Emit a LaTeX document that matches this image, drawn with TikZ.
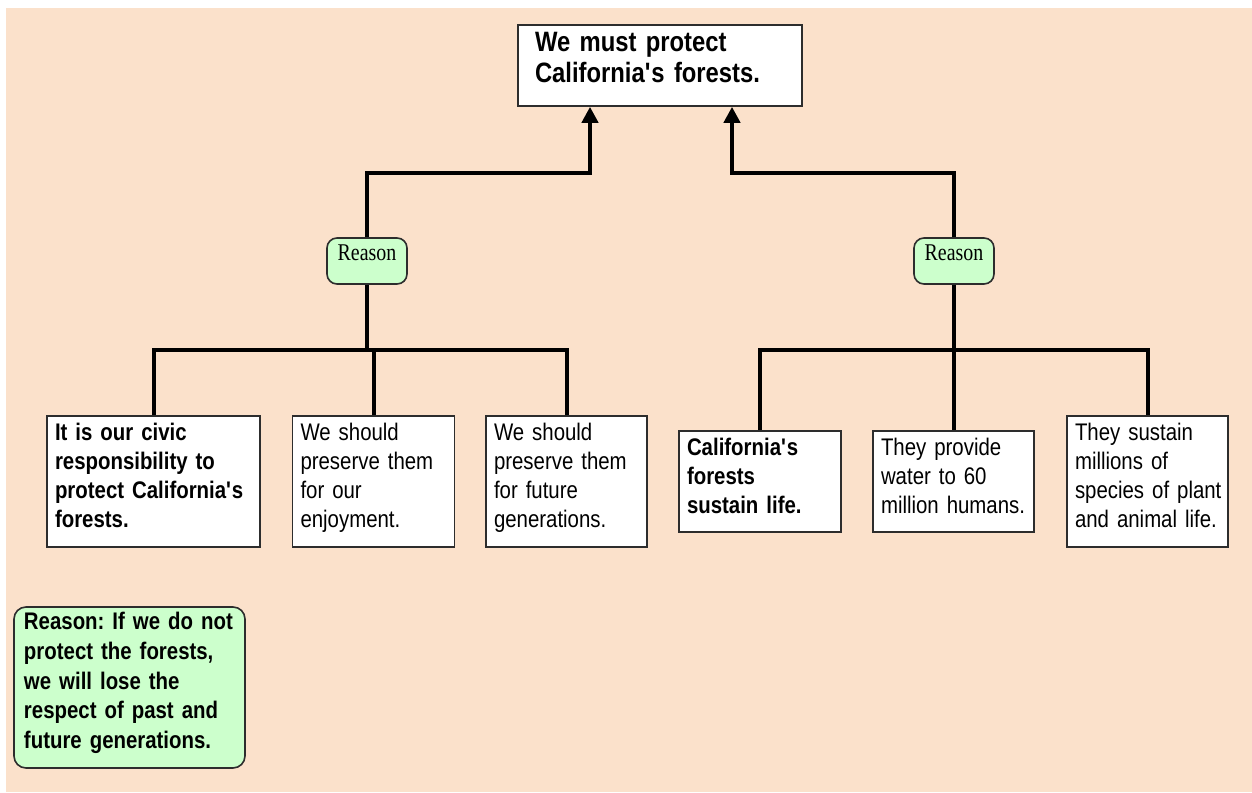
\documentclass[tikz,border=0pt]{standalone}
\usepackage{fontspec}
\setsansfont{Liberation Sans}[FakeStretch=0.85, WordSpace=0.85]
\newfontfamily\reasonfont{Liberation Serif}[FakeStretch=0.83]
\usetikzlibrary{arrows.meta}
\definecolor{peach}{RGB}{251,225,203}
\definecolor{mint}{RGB}{204,255,204}
\definecolor{edge}{RGB}{45,45,45}
\frenchspacing

\begin{document}
\begin{tikzpicture}[x=0.5pt, y=-0.5pt, >={Triangle[width=8pt,length=8pt]}]

% Stili dei blocchi
\tikzstyle{block} = [rectangle, draw=edge, line width=0.8pt, fill=white,
    font=\sffamily\fontsize{12}{14.5}\selectfont, align=left,
    inner xsep=4pt, inner ysep=2pt]
\tikzstyle{boldblock} = [block, font=\sffamily\bfseries\fontsize{12}{14.5}\selectfont]
\tikzstyle{tall} = [minimum height=65.5pt, text depth=49.7pt]
\tikzstyle{short} = [minimum height=50.5pt, text depth=35.2pt]
\tikzstyle{claim} = [block, font=\sffamily\bfseries\fontsize{14}{15.5}\selectfont,
    inner xsep=8.5pt, text depth=23.2pt]
\tikzstyle{reason} = [rectangle, rounded corners=5pt, draw=edge, line width=0.8pt,
    fill=mint, font=\reasonfont\fontsize{12}{14}\selectfont, inner sep=1pt,
    minimum width=40pt, minimum height=23pt, text height=8pt, text depth=9pt]
\tikzstyle{note} = [rectangle, rounded corners=6pt, draw=edge, line width=0.8pt,
    fill=mint, font=\sffamily\bfseries\fontsize{12}{14.9}\selectfont, align=left,
    inner xsep=5pt, inner ysep=1.5pt, text width=105.5pt, minimum height=80.5pt,
    text depth=66.7pt]
\tikzstyle{link} = [line width=2pt]

% Sfondo
\useasboundingbox (0,0) rectangle (1252,792);
\fill[white] (0,0) rectangle (1252,792);
\fill[peach] (6,8) rectangle (1252,792);

% Nodi
\node (claim) [claim, text width=125pt, minimum height=40.5pt] at (660,65.5)
    {We must protect\\California\textquotesingle s forests.};

\node (rsnL) [reason] at (367,261) {Reason};
\node (rsnR) [reason] at (954,261) {Reason};

\node (civic) [boldblock, tall, text width=98.5pt] at (153.5,481.5)
    {It is our civic\\responsibility to\\protect California\textquotesingle s\\forests.};
\node (enjoy) [block, tall, text width=73pt] at (373.5,481.5)
    {We should\\preserve them\\for our\\enjoyment.};
\node (future) [block, tall, text width=72.5pt] at (566.5,481.5)
    {We should\\preserve them\\for future\\generations.};
\node (life) [boldblock, short, text width=73pt] at (760,481.5)
    {California\textquotesingle s\\forests\\sustain life.};
\node (water) [block, short, text width=72.5pt] at (953.5,481.5)
    {They provide\\water to 60\\million~humans.};
\node (species) [block, tall, text width=72.5pt] at (1147.5,481.5)
    {They sustain\\millions of\\species~of~plant\\and animal life.};

\node (warn) [note] at (129.5,687.5)
    {Reason: If we do not\\protect the forests,\\we will lose the\\respect of past and\\future generations.};

\coordinate (jL) at (590,173);
\coordinate (jR) at (732,173);
\coordinate (barL) at (367,350);
\coordinate (barR) at (954,350);

% Frecce
\draw [link,->] (rsnL.north) |- (jL) -- (jL |- claim.south);
\draw [link,->] (rsnR.north) |- (jR) -- (jR |- claim.south);

\draw [link] (rsnL.south) -- (barL);
\draw [link] (civic.north) |- (barL);
\draw [link] (future.north) |- (barL);
\draw [link] (enjoy.north) -- (enjoy.north |- barL);

\draw [link] (rsnR.south) -- (barR);
\draw [link] (life.north) |- (barR);
\draw [link] (species.north) |- (barR);
\draw [link] (water.north) -- (water.north |- barR);

\end{tikzpicture}
\end{document}
